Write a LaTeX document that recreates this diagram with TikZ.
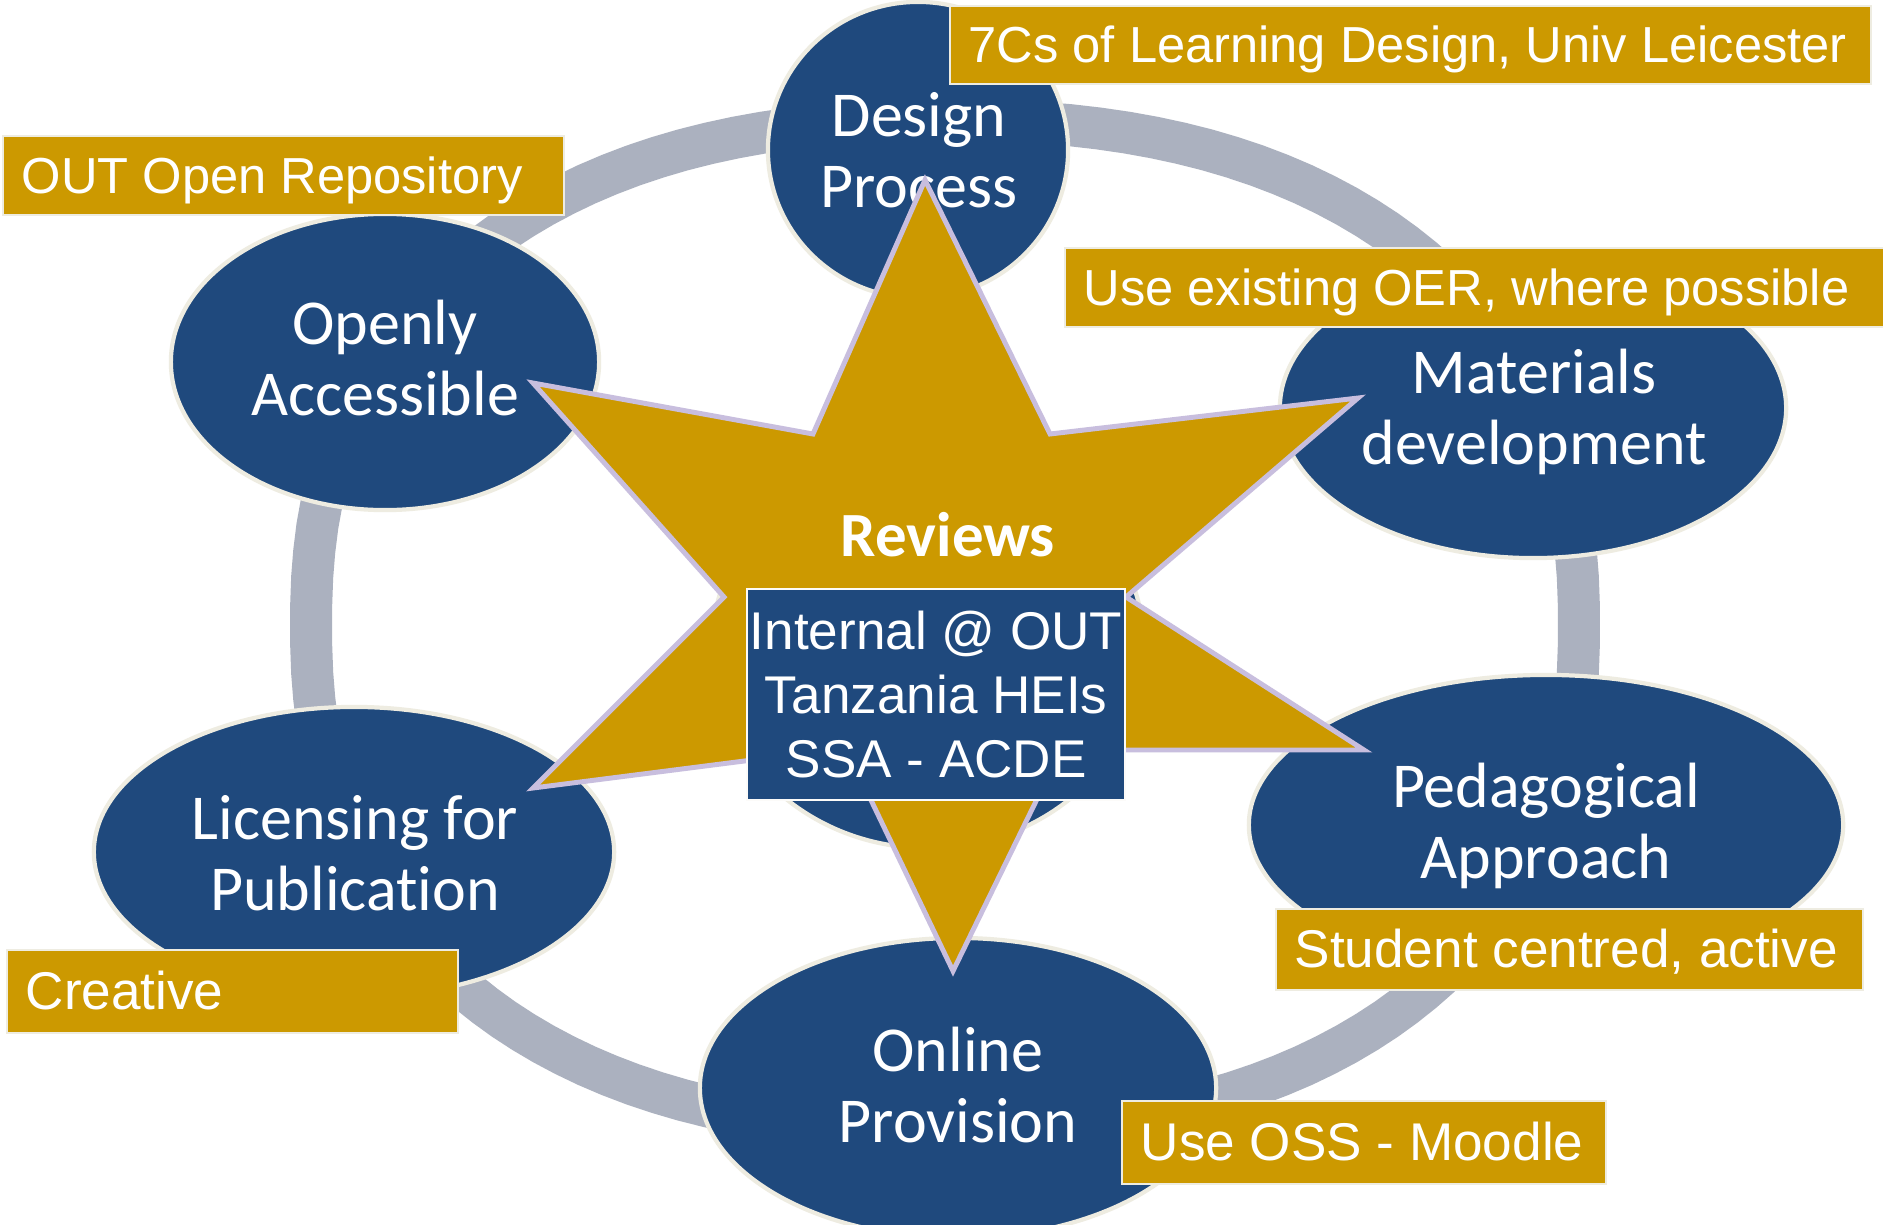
\documentclass[tikz,border=0pt]{standalone}
\usepackage{fontspec}
\setmainfont{Liberation Sans}
\newfontfamily\carlito[Ligatures=NoCommon]{Carlito}
\usetikzlibrary{shapes.geometric}
\definecolor{ublue}{RGB}{31,73,125}
\definecolor{ugold}{RGB}{204,153,0}
\definecolor{uring}{RGB}{171,177,191}
\definecolor{ucream}{RGB}{238,236,225}
\definecolor{ulav}{RGB}{200,190,222}
\begin{document}
\begin{tikzpicture}[x=0.01cm, y=-0.01cm,
  ell/.style={ellipse, fill=ublue, draw=ucream, line width=1.2pt, inner sep=0pt},
  elltext/.style={inner sep=0pt, text=white, align=center,
    font=\carlito\fontsize{18.2}{20.2}\selectfont},
  goldbox/.style={rectangle, fill=ugold, draw=ucream, line width=0.6pt, anchor=north west,
    inner sep=0pt},
  boxtext/.style={anchor=west, inner sep=0pt, text=white,
    text height=10.5pt, text depth=0.5pt},
  topfont/.style={font=\fontsize{14.4}{17}\selectfont},
  lowfont/.style={font=\fontsize{15.1}{17}\selectfont},
  starshape/.style={fill=ugold, draw=ulav, line width=1.4pt},
  ringline/.style={draw=uring, line width=0.42cm},
  revbox/.style={rectangle, fill=ublue, draw=white!80!ucream, line width=0.6pt, anchor=north west,
    inner sep=0pt, align=center, text=white, font=\fontsize{15.1}{18.2}\selectfont}
]
\useasboundingbox (0,0) rectangle (1883,1224);
\fill[white] (0,0) rectangle (1883,1224);

% ring
\draw[ringline] plot[domain=1.25:358.75, samples=144]
  ({945+634*sign(cos(\x))*pow(abs(cos(\x)),0.8696)},
   {625+505*sign(sin(\x))*pow(abs(sin(\x)),0.8696)}) -- cycle;

% ellipses
\node[ell, minimum width=4.32cm, minimum height=4.00cm] (centre) at (928,648) {};
\node[ell, minimum width=3.00cm, minimum height=2.96cm] (design) at (918,150) {};
\node[ell, minimum width=4.28cm, minimum height=2.96cm] (openly) at (385,362) {};
\node[ell, minimum width=5.06cm, minimum height=3.00cm] (materials) at (1533,408) {};
\node[ell, minimum width=5.94cm, minimum height=3.00cm] (pedag) at (1546,825) {};
\node[ell, minimum width=5.16cm, minimum height=3.00cm] (online) at (958,1088) {};
\node[ell, minimum width=5.20cm, minimum height=2.90cm] (licensing) at (354,852) {};

\node[elltext] (design-t) at (919,150) {Design\\Process};
\node[elltext] (openly-t) at (385,358) {Openly\\Accessible};
\node[elltext] (materials-t) at (1534,412) {Materials\\development};
\node[elltext] (pedag-t) at (1546,826) {Pedagogical\\Approach};
\node[elltext] (online-t) at (958,1085) {Online\\Provision};
\node[elltext] (licensing-t) at (355,853) {Licensing for\\Publication};

% gold label boxes
\node[goldbox, minimum width=9.20cm, minimum height=0.78cm] (b7cs) at (949,5) {};
\node[boxtext, topfont] (b7cs-t) at ([xshift=0.19cm]b7cs.west) {7Cs of Learning Design, Univ Leicester};
\node[goldbox, minimum width=8.30cm, minimum height=0.79cm] (boer) at (1064,247) {};
\node[boxtext, topfont] (boer-t) at ([xshift=0.19cm]boer.west) {Use existing OER, where possible};
\node[goldbox, minimum width=5.61cm, minimum height=0.79cm] (bout) at (2,135) {};
\node[boxtext, topfont] (bout-t) at ([xshift=0.19cm]bout.west) {OUT Open Repository};
\node[goldbox, minimum width=5.87cm, minimum height=0.81cm] (bstud) at (1275,908) {};
\node[boxtext, lowfont] (bstud-t) at ([xshift=0.19cm]bstud.west) {Student centred, active};
\node[goldbox, minimum width=4.84cm, minimum height=0.83cm] (boss) at (1121,1100) {};
\node[boxtext, lowfont] (boss-t) at ([xshift=0.19cm]boss.west) {Use OSS - Moodle};
\node[goldbox, minimum width=4.51cm, minimum height=0.83cm] (bcre) at (6,949) {};
\node[boxtext, lowfont] (bcre-t) at ([xshift=0.19cm]bcre.west) {Creative};

% star
\draw[starshape] (925,180) -- (1050,434) -- (1358,398) -- (1126,597) -- (1364,750)
  -- (1061,750) -- (953,971) -- (846,748) -- (533,788) -- (724,597) -- (533,383)
  -- (813,434) -- cycle;

\node[text=white, font=\carlito\bfseries\fontsize{17.9}{20}\selectfont] (reviews) at (948,535) {Reviews};

\node[revbox, minimum width=3.78cm, minimum height=2.11cm] (internal) at (746,588)
  {Internal @ OUT\\Tanzania HEIs\\SSA - ACDE};
\end{tikzpicture}
\end{document}
